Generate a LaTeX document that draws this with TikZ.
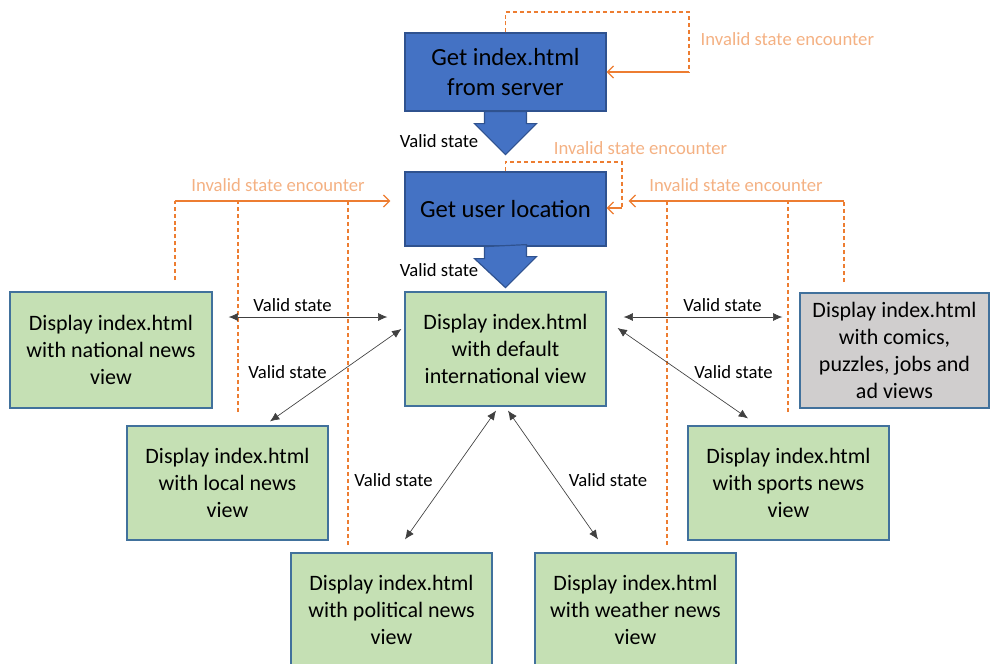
\documentclass[tikz,border=0pt]{standalone}
\usepackage{fontspec}
\setmainfont{Carlito}
\usetikzlibrary{calc, arrows.meta}
\definecolor{stepBlue}{HTML}{4472C4}
\definecolor{stepBlueLine}{HTML}{2F528F}
\definecolor{viewGreen}{HTML}{C5E0B4}
\definecolor{viewLine}{HTML}{41719C}
\definecolor{adGray}{HTML}{D0CECE}
\definecolor{failOrange}{HTML}{ED7D31}
\definecolor{failText}{HTML}{F4B183}

\tikzset{
  stepbox/.style={draw=stepBlueLine, fill=stepBlue, line width=0.9pt, minimum width=150.75pt, align=center, font=\fontsize{18.5}{22.5}\selectfont},
  viewbox/.style={draw=viewLine, fill=viewGreen, line width=0.9pt, minimum width=150.75pt, minimum height=85.5pt, align=center, font=\fontsize{16.5}{20.2}\selectfont},
  validlbl/.style={font=\fontsize{14}{17}\selectfont},
  faillbl/.style={text=failText, font=\fontsize{14}{17}\selectfont},
  validarr/.style={draw=black!75, line width=0.5pt, {Latex[length=7pt,width=6pt]}-{Latex[length=7pt,width=6pt]}},
  failline/.style={draw=failOrange, line width=1pt},
  faildash/.style={draw=failOrange, line width=1pt, dash pattern=on 3pt off 2.2pt},
  failarr/.style={failline, -{Straight Barb[length=4.5pt,width=9pt]}},
  blockarr/.style={draw=stepBlueLine, fill=stepBlue, line width=0.9pt}
}

\begin{document}
\begin{tikzpicture}[x=0.75pt, y=-0.75pt]
    \useasboundingbox (0,0) rectangle (990,664);
    \node[stepbox, minimum height=58.5pt] (srv) at (505.5,72) {Get index.html\\from server};
    \node[stepbox, minimum height=55.5pt] (userloc) at (505.5,209) {Get user location};
    \node[viewbox] (intl) at (505.5,349) {Display index.html\\with default\\international view};
    \node[viewbox, minimum width=151.5pt, minimum height=87pt] (natl) at (111,350) {Display index.html\\with national news\\view};
    \node[viewbox, fill=adGray, minimum width=141.75pt, minimum height=86.25pt] (comics) at (894.5,350.5) {Display index.html\\with comics,\\puzzles, jobs and\\ad views};
    \node[viewbox] (local) at (227.5,483) {Display index.html\\with local news\\view};
    \node[viewbox] (sports) at (788.5,483) {Display index.html\\with sports news\\view};
    \node[viewbox] (polit) at (391.5,610) {Display index.html\\with political news\\view};
    \node[viewbox] (weather) at (635.5,610) {Display index.html\\with weather news\\view};

    \foreach \b/\h in {srv/43, userloc/41}
        \draw[blockarr] ([shift={(-21,0)}]\b.south) -- ++(0,12) -- ++(-10,0) -- ([shift={(0,\h)}]\b.south) -- ++(31,-31) -- ++(-10,0) -- ++(0,-12) -- cycle;
    \node[validlbl] (vsrv) at (439,141) {Valid state};
    \node[validlbl] (vloc) at (439,270) {Valid state};

    \coordinate (srvtop) at (505.5,12);
    \coordinate (srvret) at (689,72);
    \draw[faildash] (srv.north) -- (srvtop) -| (srvret);
    \draw[failarr] (srvret) -- (srv.east);
    \node[faillbl, anchor=west] (fsrv) at (696,39) {Invalid state encounter};
    \coordinate (loctop) at (505.5,162);
    \coordinate (locret) at (622,208);
    \draw[faildash] (userloc.north) -- (loctop) -| (locret);
    \draw[failarr] (locret) -- (userloc.east |- locret);
    \node[faillbl] (floc) at (640.5,148) {Invalid state encounter};

    \coordinate (lbus) at (175,201);
    \coordinate (rbus) at (844,201);
    \draw[failarr] (lbus) -- ([shift={(-14,-8)}]userloc.west);
    \draw[failarr] (rbus) -- ([shift={(22,-8)}]userloc.east);
    \foreach \dx/\dy in {175/280, 238/412, 348/545, 844/282, 788/412, 667/545}
        \draw[faildash] (\dx,\dy) -- (\dx,201);
    \node[faillbl] (fleft) at (278,185) {Invalid state encounter};
    \node[faillbl] (fright) at (736,185) {Invalid state encounter};

    \draw[validarr] ([shift={(16,-33)}]natl.east) -- ([shift={(-17,-32)}]intl.west);
    \draw[validarr] ([shift={(17,-32)}]intl.east) -- ([shift={(-17,-33.5)}]comics.west);
    \draw[validarr] ([shift={(-3,-20)}]intl.west) -- ([shift={(42.5,-4)}]local.north);
    \draw[validarr] ([shift={(11,-21)}]intl.east) -- ([shift={(-40.5,-7)}]sports.north);
    \draw[validarr] ([shift={(-9.5,4)}]intl.south) -- ([shift={(13.5,-13)}]polit.north);
    \draw[validarr] ([shift={(2.5,4)}]intl.south) -- ([shift={(-37.5,-13)}]weather.north);
    \node[validlbl] at (292.5,305) {Valid state};
    \node[validlbl] at (722.5,305) {Valid state};
    \node[validlbl] at (287.5,372) {Valid state};
    \node[validlbl] at (733.5,372) {Valid state};
    \node[validlbl] at (393.5,480) {Valid state};
    \node[validlbl] at (608,480) {Valid state};
\end{tikzpicture}
\end{document}
